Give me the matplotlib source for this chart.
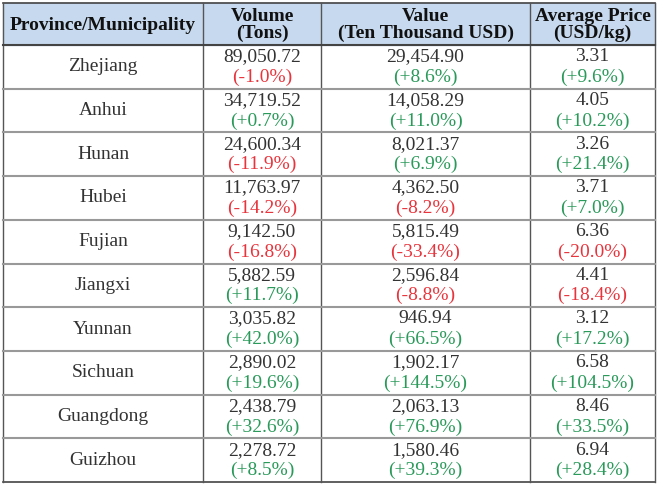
import matplotlib.pyplot as plt
from matplotlib.patches import Rectangle

plt.rcParams['font.family'] = ['Liberation Serif', 'DejaVu Serif']

headers = ['Province/Municipality', 'Volume\n(Tons)', 'Value\n(Ten Thousand USD)', 'Average Price\n(USD/kg)']
provinces = ['Zhejiang', 'Anhui', 'Hunan', 'Hubei', 'Fujian', 'Jiangxi', 'Yunnan', 'Sichuan', 'Guangdong', 'Guizhou']
volume = ['89,050.72', '34,719.52', '24,600.34', '11,763.97', '9,142.50', '5,882.59', '3,035.82', '2,890.02', '2,438.79', '2,278.72']
volume_chg = [-1.0, 0.7, -11.9, -14.2, -16.8, 11.7, 42.0, 19.6, 32.6, 8.5]
value = ['29,454.90', '14,058.29', '8,021.37', '4,362.50', '5,815.49', '2,596.84', '946.94', '1,902.17', '2,063.13', '1,580.46']
value_chg = [8.6, 11.0, 6.9, -8.2, -33.4, -8.8, 66.5, 144.5, 76.9, 39.3]
price = ['3.31', '4.05', '3.26', '3.71', '6.36', '4.41', '3.12', '6.58', '8.46', '6.94']
price_chg = [9.6, 10.2, 21.4, 7.0, -20.0, -18.4, 17.2, 104.5, 33.5, 28.4]

W, H = 658, 486
fig = plt.figure(figsize=(W / 100, H / 100), dpi=100)
ax = fig.add_axes([0, 0, 1, 1])
ax.set_xlim(0, W)
ax.set_ylim(H, 0)
ax.axis('off')

cols = [3, 203, 321, 530, 655]
top, head_bot, bot = 3, 45, 482
rh = (bot - head_bot) / len(provinces)
red, green, dark = '#e8343c', '#2a9a5a', '#333333'

ax.add_patch(Rectangle((cols[0], top), cols[-1] - cols[0], head_bot - top, color='#c6d9ee', zorder=0))
for i, h in enumerate(headers):
    ax.text((cols[i] + cols[i + 1]) / 2, (top + head_bot) / 2 + 1, h, ha='center', va='center',
            fontsize=14, fontweight='bold', color='#111111', linespacing=0.95)

def fmt(c):
    return f'({c:+.1f}%)'

for r in range(len(provinces)):
    y0 = head_bot + r * rh
    ax.text((cols[0] + cols[1]) / 2, y0 + rh / 2, provinces[r], ha='center', va='center', fontsize=14, color=dark)
    for j, (v, c) in enumerate([(volume[r], volume_chg[r]), (value[r], value_chg[r]), (price[r], price_chg[r])]):
        x = (cols[j + 1] + cols[j + 2]) / 2
        ax.text(x, y0 + rh * 0.27, v, ha='center', va='center', fontsize=14, color=dark)
        ax.text(x, y0 + rh * 0.74, fmt(c), ha='center', va='center', fontsize=14,
                color=red if c < 0 else green)
    ax.plot([cols[0], cols[-1]], [y0, y0], color='#999999' if r else '#444444', lw=1.5, zorder=3)

ax.plot([cols[0], cols[-1]], [top, top], color='#444444', lw=1.2)
ax.plot([cols[0], cols[-1]], [bot, bot], color='#444444', lw=1.2)
for x in cols:
    ax.plot([x, x], [top, bot], color='#555555', lw=1.0)

fig.savefig('out.png', dpi=100)
